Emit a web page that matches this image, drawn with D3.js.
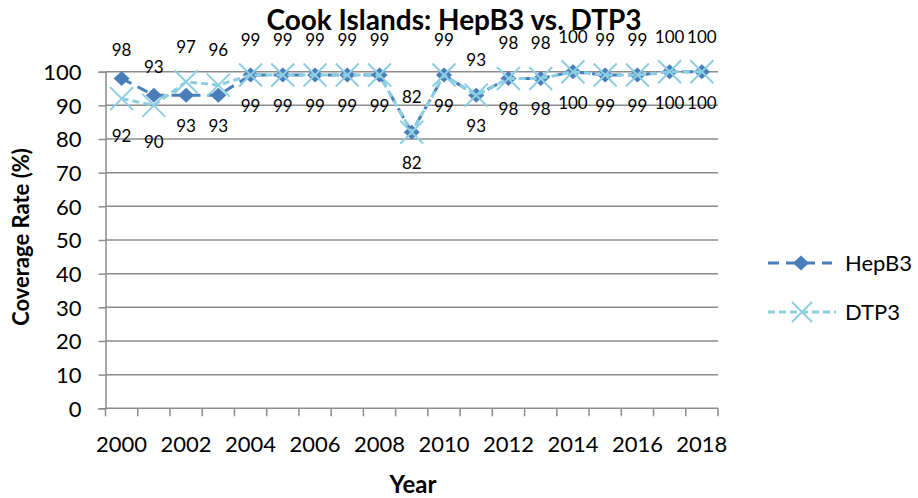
<!DOCTYPE html>
<html>
<head>
<meta charset="utf-8">
<script src="https://cdn.jsdelivr.net/npm/d3@7"></script>
<style>
  body { margin: 0; background: #fff; }
  text { font-family: Lato, "Open Sans", sans-serif; fill: #000; }
</style>
</head>
<body>
<div id="chart"></div>
<script>
// data
let years = d3.range(2000, 2019);
let hepB3 = [98, 93, 93, 93, 99, 99, 99, 99, 99, 82, 99, 93, 98, 98, 100, 99, 99, 100, 100];
let dtp3  = [92, 90, 97, 96, 99, 99, 99, 99, 99, 82, 99, 93, 98, 98, 100, 99, 99, 100, 100];
let yTicks = [0, 10, 20, 30, 40, 50, 60, 70, 80, 90, 100];
let xLabels = years.filter(d => d % 2 == 0);

let width = 918, height = 498;
let plot = {left: 105.5, right: 718, top: 71.7, bottom: 408.3};
let hepColor = "#4a7ebb", dtpColor = "#8ccfe2", gridColor = "#8c8c8c";

let svg = d3.select("#chart").append("svg")
    .attr("width", width)
    .attr("height", height);

let x = d3.scaleBand().domain(years).range([plot.left, plot.right]);
let y = d3.scaleLinear().domain([0, 100]).range([plot.bottom, plot.top]);
let cx = d => x(d) + x.bandwidth() / 2;

// gridlines
svg.append("g").selectAll("line")
    .data(yTicks.filter(d => d > 0))
    .enter().append("line")
    .attr("x1", plot.left).attr("x2", plot.right)
    .attr("y1", d => y(d)).attr("y2", d => y(d))
    .attr("stroke", gridColor).attr("stroke-width", 1.5);

// y axis
let yAxis = svg.append("g")
    .attr("transform", `translate(${plot.left},0)`)
    .call(d3.axisLeft(y).tickValues(yTicks).tickSize(7).tickPadding(17));
yAxis.select(".domain").attr("stroke", gridColor).attr("stroke-width", 1.5);
yAxis.selectAll(".tick line").attr("stroke", gridColor).attr("stroke-width", 1.5);
yAxis.selectAll(".tick text").style("font-size", "22px").attr("dy", "0.35em");

// x axis: ticks between categories, labels every other year
let xAxisG = svg.append("g").attr("transform", `translate(0,${plot.bottom})`);
xAxisG.append("line")
    .attr("x1", plot.left).attr("x2", plot.right)
    .attr("stroke", gridColor).attr("stroke-width", 1.5);
xAxisG.selectAll(".xt")
    .data(years.concat([null]))
    .enter().append("line")
    .attr("class", "xt")
    .attr("x1", d => d == null ? plot.right : x(d))
    .attr("x2", d => d == null ? plot.right : x(d))
    .attr("y1", 0).attr("y2", 8)
    .attr("stroke", gridColor).attr("stroke-width", 1.5);
xAxisG.selectAll(".xl")
    .data(xLabels)
    .enter().append("text")
    .attr("class", "xl")
    .attr("x", d => cx(d))
    .attr("y", 36)
    .attr("dy", "0.35em")
    .attr("text-anchor", "middle")
    .style("font-size", "22px")
    .text(d => d);

// series lines
let line = vals => d3.line()
    .x((d, i) => cx(years[i]))
    .y(d => y(d))(vals);

svg.append("path")
    .attr("d", line(hepB3))
    .attr("fill", "none")
    .attr("stroke", hepColor)
    .attr("stroke-width", 3)
    .attr("stroke-dasharray", "11,7");

// HepB3 diamonds
svg.append("g").selectAll("path")
    .data(hepB3)
    .enter().append("path")
    .attr("d", "M0,-7.5L8,0L0,7.5L-8,0Z")
    .attr("transform", (d, i) => `translate(${cx(years[i])},${y(d)})`)
    .attr("fill", hepColor);

svg.append("path")
    .attr("d", line(dtp3))
    .attr("fill", "none")
    .attr("stroke", dtpColor)
    .attr("stroke-width", 3)
    .attr("stroke-dasharray", "7,4");

// DTP3 crosses
svg.append("g").selectAll("path")
    .data(dtp3)
    .enter().append("path")
    .attr("d", "M-11.5,-11.5L11.5,11.5M-11.5,11.5L11.5,-11.5")
    .attr("transform", (d, i) => `translate(${cx(years[i])},${y(d)})`)
    .attr("fill", "none")
    .attr("stroke", dtpColor)
    .attr("stroke-width", 2);

// data labels: the higher series above, the other below (DTP3 wins ties)
svg.append("g").selectAll("text")
    .data(hepB3)
    .enter().append("text")
    .attr("x", (d, i) => cx(years[i]))
    .attr("y", (d, i) => y(d) + (d > dtp3[i] ? -28 : 31))
    .attr("dy", "0.35em")
    .attr("text-anchor", "middle")
    .style("font-size", "17px")
    .text(d => d);

svg.append("g").selectAll("text")
    .data(dtp3)
    .enter().append("text")
    .attr("x", (d, i) => cx(years[i]))
    .attr("y", (d, i) => y(d) + (d >= hepB3[i] ? -35 : 37))
    .attr("dy", "0.35em")
    .attr("text-anchor", "middle")
    .style("font-size", "17px")
    .text(d => d);

// title and axis titles
svg.append("text")
    .attr("x", 454).attr("y", 30)
    .attr("text-anchor", "middle")
    .style("font-size", "28px").style("font-weight", "bold")
    .text("Cook Islands: HepB3 vs. DTP3");

svg.append("text")
    .attr("x", 413).attr("y", 485).attr("dy", "0.35em")
    .attr("text-anchor", "middle")
    .style("font-size", "24px").style("font-weight", "bold")
    .text("Year");

svg.append("text")
    .attr("transform", "translate(21,237) rotate(-90)")
    .attr("dy", "0.35em")
    .attr("text-anchor", "middle")
    .style("font-size", "22px").style("font-weight", "bold")
    .text("Coverage Rate (%)");

// legend
let legend = svg.append("g");
legend.append("line")
    .attr("x1", 768).attr("x2", 832).attr("y1", 263).attr("y2", 263)
    .attr("stroke", hepColor).attr("stroke-width", 3)
    .attr("stroke-dasharray", "11,7");
legend.append("path")
    .attr("d", "M0,-7.5L8,0L0,7.5L-8,0Z")
    .attr("transform", "translate(801,263)")
    .attr("fill", hepColor);
legend.append("text")
    .attr("x", 845).attr("y", 263).attr("dy", "0.35em")
    .style("font-size", "22px")
    .text("HepB3");

legend.append("line")
    .attr("x1", 768).attr("x2", 836).attr("y1", 312).attr("y2", 312)
    .attr("stroke", dtpColor).attr("stroke-width", 3)
    .attr("stroke-dasharray", "7,4");
legend.append("path")
    .attr("d", "M-10,-10L10,10M-10,10L10,-10")
    .attr("transform", "translate(802,312)")
    .attr("fill", "none")
    .attr("stroke", dtpColor).attr("stroke-width", 2);
legend.append("text")
    .attr("x", 845).attr("y", 312).attr("dy", "0.35em")
    .style("font-size", "22px")
    .text("DTP3");
</script>
</body>
</html>
